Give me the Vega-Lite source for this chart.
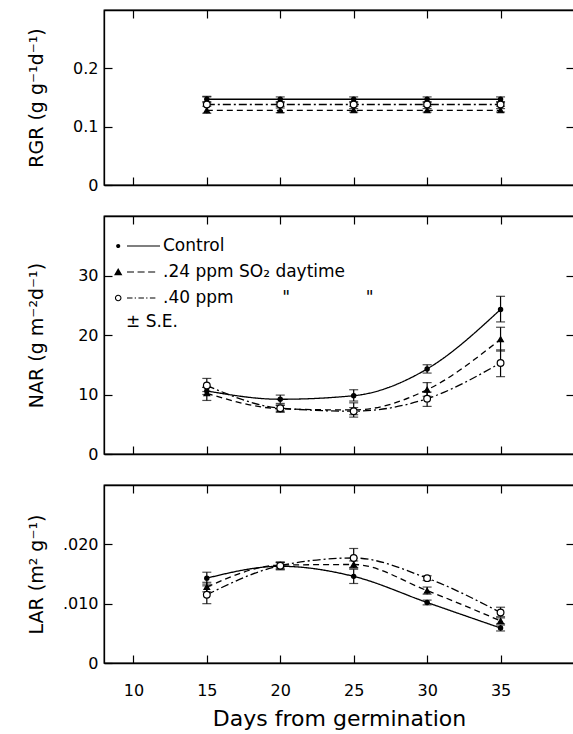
{
  "$schema": "https://vega.github.io/schema/vega-lite/v6.json",
  "background": "white",
  "padding": {"left": 26, "top": 8, "right": 0, "bottom": 0},
  "config": {
    "font": "DejaVu Sans",
    "view": {"stroke": "black", "strokeWidth": 1.3},
    "axis": {"grid": false, "domainColor": "black", "domainWidth": 1.3, "tickColor": "black", "tickWidth": 1.2, "tickSize": -8, "labelColor": "black", "titleColor": "black", "labelFontSize": 16, "titleFontSize": 19, "titleFontWeight": "normal", "labelPadding": 14}
  },
  "datasets": {
    "rgr": [
      {"day": 15, "trt": "Control", "v": 0.147, "lo": 0.143, "hi": 0.151},
      {"day": 20, "trt": "Control", "v": 0.147, "lo": 0.143, "hi": 0.151},
      {"day": 25, "trt": "Control", "v": 0.147, "lo": 0.143, "hi": 0.151},
      {"day": 30, "trt": "Control", "v": 0.147, "lo": 0.143, "hi": 0.151},
      {"day": 35, "trt": "Control", "v": 0.147, "lo": 0.143, "hi": 0.151},
      {"day": 15, "trt": "T24", "v": 0.128, "lo": 0.123, "hi": 0.152},
      {"day": 20, "trt": "T24", "v": 0.128, "lo": 0.124, "hi": 0.132},
      {"day": 25, "trt": "T24", "v": 0.128, "lo": 0.125, "hi": 0.131},
      {"day": 30, "trt": "T24", "v": 0.128, "lo": 0.125, "hi": 0.131},
      {"day": 35, "trt": "T24", "v": 0.128, "lo": 0.125, "hi": 0.131},
      {"day": 15, "trt": "T40", "v": 0.138, "lo": 0.135, "hi": 0.141},
      {"day": 20, "trt": "T40", "v": 0.138, "lo": 0.135, "hi": 0.141},
      {"day": 25, "trt": "T40", "v": 0.138, "lo": 0.135, "hi": 0.141},
      {"day": 30, "trt": "T40", "v": 0.138, "lo": 0.135, "hi": 0.141},
      {"day": 35, "trt": "T40", "v": 0.138, "lo": 0.135, "hi": 0.141}
    ],
    "nar": [
      {"day": 15, "trt": "Control", "v": 10.6, "lo": 10.0, "hi": 11.2},
      {"day": 20, "trt": "Control", "v": 9.2, "lo": 8.5, "hi": 9.9},
      {"day": 25, "trt": "Control", "v": 9.8, "lo": 8.9, "hi": 10.8},
      {"day": 30, "trt": "Control", "v": 14.3, "lo": 13.6, "hi": 15.0},
      {"day": 35, "trt": "Control", "v": 24.3, "lo": 22.2, "hi": 26.5},
      {"day": 15, "trt": "T24", "v": 10.2, "lo": 9.0, "hi": 11.2},
      {"day": 20, "trt": "T24", "v": 7.6, "lo": 7.0, "hi": 8.2},
      {"day": 25, "trt": "T24", "v": 7.4, "lo": 6.2, "hi": 8.6},
      {"day": 30, "trt": "T24", "v": 10.8, "lo": 9.7, "hi": 12.0},
      {"day": 35, "trt": "T24", "v": 19.3, "lo": 17.3, "hi": 21.3},
      {"day": 15, "trt": "T40", "v": 11.5, "lo": 10.5, "hi": 12.7},
      {"day": 20, "trt": "T40", "v": 7.7, "lo": 7.2, "hi": 8.2},
      {"day": 25, "trt": "T40", "v": 7.2, "lo": 6.6, "hi": 7.8},
      {"day": 30, "trt": "T40", "v": 9.3, "lo": 8.0, "hi": 10.4},
      {"day": 35, "trt": "T40", "v": 15.3, "lo": 13.0, "hi": 17.5}
    ],
    "lar": [
      {"day": 15, "trt": "Control", "v": 0.0143, "lo": 0.0133, "hi": 0.0153},
      {"day": 20, "trt": "Control", "v": 0.0163, "lo": 0.0157, "hi": 0.0169},
      {"day": 25, "trt": "Control", "v": 0.0146, "lo": 0.0134, "hi": 0.0158},
      {"day": 30, "trt": "Control", "v": 0.0102, "lo": 0.0098, "hi": 0.0106},
      {"day": 35, "trt": "Control", "v": 0.0059, "lo": 0.0054, "hi": 0.0064},
      {"day": 15, "trt": "T24", "v": 0.0128, "lo": 0.0120, "hi": 0.0136},
      {"day": 20, "trt": "T24", "v": 0.0165, "lo": 0.0160, "hi": 0.0170},
      {"day": 25, "trt": "T24", "v": 0.0166, "lo": 0.0160, "hi": 0.0172},
      {"day": 30, "trt": "T24", "v": 0.0122, "lo": 0.0116, "hi": 0.0128},
      {"day": 35, "trt": "T24", "v": 0.0071, "lo": 0.0066, "hi": 0.0076},
      {"day": 15, "trt": "T40", "v": 0.0115, "lo": 0.0100, "hi": 0.0130},
      {"day": 20, "trt": "T40", "v": 0.0164, "lo": 0.0158, "hi": 0.0170},
      {"day": 25, "trt": "T40", "v": 0.0177, "lo": 0.0161, "hi": 0.0193},
      {"day": 30, "trt": "T40", "v": 0.0143, "lo": 0.0139, "hi": 0.0147},
      {"day": 35, "trt": "T40", "v": 0.0085, "lo": 0.0078, "hi": 0.0094}
    ]
  },
  "spacing": 20,
  "resolve": {"scale": {"shape": "independent", "fill": "independent", "size": "independent", "strokeDash": "independent"}, "legend": {"shape": "independent", "fill": "independent", "size": "independent", "strokeDash": "independent"}},
  "vconcat": [
    {
      "width": 470, "height": 175,
      "data": {"name": "rgr"},
      "layer": [
        {"mark": {"type": "line", "interpolate": "monotone", "color": "black", "strokeWidth": 1.3},
         "encoding": {
           "x": {"field": "day", "type": "quantitative", "scale": {"domain": [8, 40], "nice": false, "zero": false}, "axis": {"orient": "top", "labels": false, "title": null, "values": [10, 15, 20, 25, 30, 35]}},
           "y": {"field": "v", "type": "quantitative", "scale": {"domain": [0, 0.3], "nice": false}, "axis": {"orient": "right", "labels": false, "title": null, "values": [0.1, 0.2]}},
           "strokeDash": {"field": "trt", "type": "nominal", "scale": {"domain": ["Control", "T24", "T40"], "range": [[1, 0], [6, 4], [8, 3, 2, 3]]}, "legend": null}
         }},
        {"mark": {"type": "errorbar", "ticks": {"size": 9, "color": "black"}, "color": "black", "thickness": 1.2},
         "encoding": {
           "x": {"field": "day", "type": "quantitative", "axis": null},
           "y": {"field": "lo", "type": "quantitative", "axis": null},
           "y2": {"field": "hi"}
         }},
        {"mark": {"type": "point", "stroke": "black", "strokeWidth": 1.2, "opacity": 1},
         "encoding": {
           "x": {"field": "day", "type": "quantitative", "axis": {"orient": "bottom", "labels": false, "title": null, "values": [10, 15, 20, 25, 30, 35]}},
           "y": {"field": "v", "type": "quantitative", "axis": {"orient": "left", "title": "RGR (g g⁻¹d⁻¹)", "titleX": -58, "values": [0, 0.1, 0.2], "labelExpr": "datum.value == 0 ? '0' : format(datum.value, '.1f')"}},
           "shape": {"field": "trt", "type": "nominal", "scale": {"domain": ["Control", "T24", "T40"], "range": ["circle", "triangle-up", "circle"]}, "legend": null},
           "fill": {"field": "trt", "type": "nominal", "scale": {"domain": ["Control", "T24", "T40"], "range": ["black", "black", "white"]}, "legend": null},
           "size": {"field": "trt", "type": "nominal", "scale": {"domain": ["Control", "T24", "T40"], "range": [18, 45, 60]}, "legend": null}
         }}
      ],
      "resolve": {"axis": {"x": "independent", "y": "independent"}}
    },
    {
      "width": 470, "height": 238,
      "data": {"name": "nar"},
      "layer": [
        {"mark": {"type": "line", "interpolate": "monotone", "color": "black", "strokeWidth": 1.3},
         "encoding": {
           "x": {"field": "day", "type": "quantitative", "scale": {"domain": [8, 40], "nice": false, "zero": false}, "axis": {"orient": "top", "labels": false, "title": null, "values": [10, 15, 20, 25, 30, 35]}},
           "y": {"field": "v", "type": "quantitative", "scale": {"domain": [0, 40], "nice": false}, "axis": {"orient": "right", "labels": false, "title": null, "values": [10, 20, 30]}},
           "strokeDash": {"field": "trt", "type": "nominal", "scale": {"domain": ["Control", "T24", "T40"], "range": [[1, 0], [6, 4], [8, 3, 2, 3]]}, "legend": null}
         }},
        {"mark": {"type": "errorbar", "ticks": {"size": 9, "color": "black"}, "color": "black", "thickness": 1.2},
         "encoding": {
           "x": {"field": "day", "type": "quantitative", "axis": null},
           "y": {"field": "lo", "type": "quantitative", "axis": null},
           "y2": {"field": "hi"}
         }},
        {"mark": {"type": "point", "stroke": "black", "strokeWidth": 1.2, "opacity": 1},
         "encoding": {
           "x": {"field": "day", "type": "quantitative", "axis": {"orient": "bottom", "labels": false, "title": null, "values": [10, 15, 20, 25, 30, 35]}},
           "y": {"field": "v", "type": "quantitative", "axis": {"orient": "left", "title": "NAR (g m⁻²d⁻¹)", "titleX": -58, "values": [0, 10, 20, 30]}},
           "shape": {"field": "trt", "type": "nominal", "scale": {"domain": ["Control", "T24", "T40"], "range": ["circle", "triangle-up", "circle"]}, "legend": null},
           "fill": {"field": "trt", "type": "nominal", "scale": {"domain": ["Control", "T24", "T40"], "range": ["black", "black", "white"]}, "legend": null},
           "size": {"field": "trt", "type": "nominal", "scale": {"domain": ["Control", "T24", "T40"], "range": [18, 45, 60]}, "legend": null}
         }},
        {"mark": {"type": "point", "opacity": 0, "filled": false, "fill": "black", "stroke": "black", "strokeWidth": 1.2},
         "encoding": {
           "x": {"field": "day", "type": "quantitative", "axis": null},
           "y": {"field": "v", "type": "quantitative", "axis": null},
           "shape": {"field": "trt", "type": "nominal",
             "scale": {"domain": ["Control", "T24", "T40"], "range": [
               "M-1.99,0a0.19,0.19 0 1,0 0.38,0a0.19,0.19 0 1,0 -0.38,0ZM-1,-0.055H2V0.055H-1Z",
               "M-1.8,-0.36L-1.42,0.3L-2.18,0.3ZM-1,-0.055H-0.36V0.055H-1ZM-0.04,-0.055H0.6V0.055H-0.04ZM0.92,-0.055H1.56V0.055H0.92Z",
               "M-2.1,0a0.3,0.3 0 1,0 0.6,0a0.3,0.3 0 1,0 -0.6,0ZM-2,0a0.2,0.2 0 1,1 0.4,0a0.2,0.2 0 1,1 -0.4,0ZM-1,-0.055H-0.5V0.055H-1ZM-0.3,-0.055H-0.18V0.055H-0.3ZM0.04,-0.055H0.54V0.055H0.04ZM0.74,-0.055H0.86V0.055H0.74ZM1.08,-0.055H1.58V0.055H1.08Z"
             ]},
             "legend": {
               "orient": "none", "legendX": 22, "legendY": 18,
               "title": "± S.E.", "titleOrient": "bottom", "titleAnchor": "start", "titleFontSize": 17, "titleFontWeight": "normal", "titleColor": "black", "titlePadding": 8,
               "labelFontSize": 17, "labelColor": "black", "labelOffset": 13, "labelLimit": 400,
               "symbolSize": 484, "symbolStrokeWidth": 1.2, "symbolStrokeColor": "black", "symbolFillColor": "black", "rowPadding": 6,
               "labelExpr": "datum.value == 'Control' ? 'Control' : datum.value == 'T24' ? '.24 ppm SO₂ daytime' : '.40 ppm\u00a0\u00a0\u00a0\u00a0\u00a0\u00a0\u00a0\u00a0\u00a0\"\u00a0\u00a0\u00a0\u00a0\u00a0\u00a0\u00a0\u00a0\u00a0\u00a0\u00a0\u00a0\u00a0\u00a0\"'",
               "encode": {"symbols": {"update": {"opacity": {"value": 1}, "fill": {"value": "black"}, "fillOpacity": {"value": 1}, "stroke": {"value": "black"}, "strokeWidth": {"value": 1.2}}}}
             }}
         }}
      ],
      "resolve": {"axis": {"x": "independent", "y": "independent"}, "scale": {"shape": "independent"}}
    },
    {
      "width": 470, "height": 178,
      "data": {"name": "lar"},
      "layer": [
        {"mark": {"type": "line", "interpolate": "monotone", "color": "black", "strokeWidth": 1.3},
         "encoding": {
           "x": {"field": "day", "type": "quantitative", "scale": {"domain": [8, 40], "nice": false, "zero": false}, "axis": {"orient": "top", "labels": false, "title": null, "values": [10, 15, 20, 25, 30, 35]}},
           "y": {"field": "v", "type": "quantitative", "scale": {"domain": [0, 0.03], "nice": false}, "axis": {"orient": "right", "labels": false, "title": null, "values": [0.01, 0.02]}},
           "strokeDash": {"field": "trt", "type": "nominal", "scale": {"domain": ["Control", "T24", "T40"], "range": [[1, 0], [6, 4], [8, 3, 2, 3]]}, "legend": null}
         }},
        {"mark": {"type": "errorbar", "ticks": {"size": 9, "color": "black"}, "color": "black", "thickness": 1.2},
         "encoding": {
           "x": {"field": "day", "type": "quantitative", "axis": null},
           "y": {"field": "lo", "type": "quantitative", "axis": null},
           "y2": {"field": "hi"}
         }},
        {"mark": {"type": "point", "stroke": "black", "strokeWidth": 1.2, "opacity": 1},
         "encoding": {
           "x": {"field": "day", "type": "quantitative", "axis": {"orient": "bottom", "title": "Days from germination", "titleFontSize": 22, "titlePadding": 10, "values": [10, 15, 20, 25, 30, 35], "labelPadding": 27}},
           "y": {"field": "v", "type": "quantitative", "axis": {"orient": "left", "title": "LAR (m² g⁻¹)", "titleX": -58, "values": [0, 0.01, 0.02], "labelExpr": "datum.value == 0 ? '0' : replace(format(datum.value, '.3f'), '0.', '.')"}},
           "shape": {"field": "trt", "type": "nominal", "scale": {"domain": ["Control", "T24", "T40"], "range": ["circle", "triangle-up", "circle"]}, "legend": null},
           "fill": {"field": "trt", "type": "nominal", "scale": {"domain": ["Control", "T24", "T40"], "range": ["black", "black", "white"]}, "legend": null},
           "size": {"field": "trt", "type": "nominal", "scale": {"domain": ["Control", "T24", "T40"], "range": [18, 45, 60]}, "legend": null}
         }}
      ],
      "resolve": {"axis": {"x": "independent", "y": "independent"}}
    }
  ]
}
